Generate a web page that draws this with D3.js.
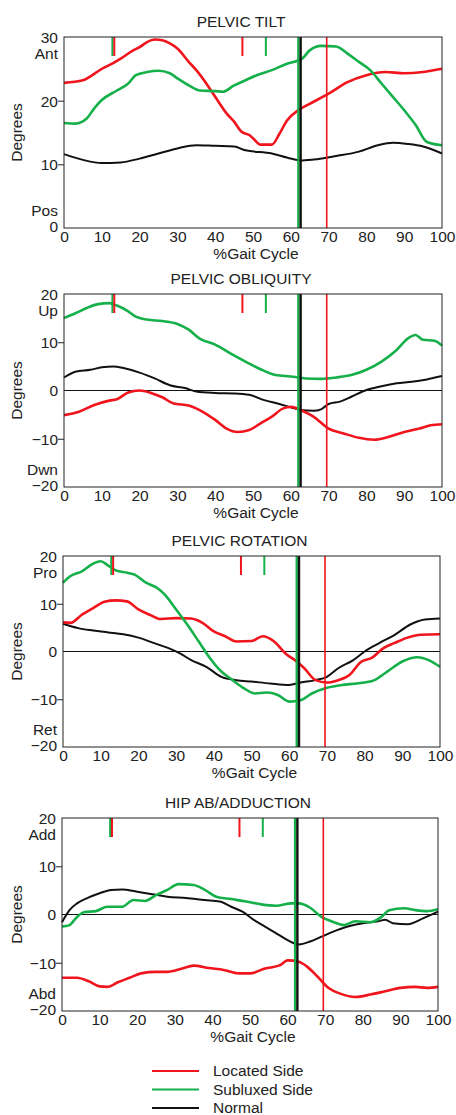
<!DOCTYPE html>
<html>
<head>
<meta charset="utf-8">
<script src="https://cdn.jsdelivr.net/npm/d3@7"></script>
<style>
  body { margin: 0; background: #fff; }
  text { font-family: Arial, "Liberation Sans", sans-serif; fill: #222; }
</style>
</head>
<body>
<script>
// gait data, [% gait cycle, degrees]
var gaitTicks = [0, 10, 20, 30, 40, 50, 60, 70, 80, 90, 100];

var tiltLocated = [[0,22.8],[5,23.2],[10,25.0],[13,25.9],[15,26.6],[18,27.8],[20,28.4],[22,29.2],[24,29.6],[26,29.5],[28,29.0],[30,28.2],[33,26.1],[35,24.8],[38,22.4],[40,20.6],[43,18.0],[45,16.7],[47,15.1],[49,14.6],[50,14.1],[52,13.1],[55,13.1],[57,14.8],[59,16.9],[62,18.5],[65,19.5],[70,21.1],[75,22.9],[80,24.0],[85,24.5],[90,24.3],[95,24.5],[100,25.0]];
var tiltSubluxed = [[0,16.5],[3,16.4],[6,17.2],[8,18.8],[10,20.1],[14,21.6],[17,22.7],[19,24.0],[22,24.5],[25,24.7],[28,24.3],[30,23.5],[33,22.4],[36,21.6],[40,21.5],[42,21.4],[45,22.4],[48,23.2],[51,24.0],[55,24.8],[59,25.8],[63,26.6],[65,27.9],[68,28.6],[72,28.5],[75,27.4],[78,26.1],[81,24.8],[84,22.7],[87,20.6],[90,18.5],[93,16.2],[96,13.5],[100,13.0]];
var tiltNormal = [[0,11.6],[5,10.7],[10,10.2],[15,10.3],[20,10.9],[25,11.7],[30,12.5],[35,13.0],[40,12.9],[45,12.8],[48,12.2],[55,11.7],[60,10.9],[63,10.6],[67,10.8],[72,11.3],[78,12.0],[83,13.0],[87,13.4],[91,13.2],[95,12.8],[100,11.7]];

var obliqLocated = [[0,-5.1],[4,-4.4],[8,-3.0],[12,-2.1],[14,-1.8],[17,-0.4],[20,0],[23,-0.5],[26,-1.4],[29,-2.7],[33,-3.1],[36,-4.1],[40,-6.1],[43,-7.9],[46,-8.6],[49,-8.2],[52,-6.8],[55,-5.4],[58,-3.7],[60,-3.4],[63,-4.2],[66,-5.4],[70,-7.9],[74,-8.9],[78,-9.8],[82,-10.2],[86,-9.6],[90,-8.6],[94,-7.9],[97,-7.2],[100,-7.0]];
var obliqSubluxed = [[0,15.0],[3,16.0],[6,17.1],[9,17.9],[12,18.1],[14,17.6],[17,16.4],[19,15.3],[22,14.7],[26,14.4],[30,13.8],[33,12.6],[36,10.7],[40,9.5],[44,7.7],[48,6.0],[52,4.4],[56,3.2],[60,2.9],[64,2.5],[68,2.4],[72,2.7],[76,3.2],[80,4.3],[84,6.0],[88,8.4],[91,10.8],[93,11.5],[95,10.5],[98,10.3],[100,9.3]];
var obliqNormal = [[0,2.7],[3,3.9],[7,4.3],[10,4.8],[13,5.0],[16,4.6],[20,3.7],[24,2.5],[28,1.1],[32,0.5],[35,-0.2],[40,-0.5],[45,-0.6],[49,-0.9],[53,-2.0],[57,-2.8],[60,-3.5],[63,-4.1],[66,-4.2],[68,-3.9],[70,-2.8],[73,-2.3],[76,-1.3],[80,0.1],[84,0.9],[88,1.5],[92,1.8],[96,2.3],[100,3.0]];

var rotLocated = [[0,6.1],[2,6.0],[5,7.7],[8,9.1],[11,10.4],[14,10.7],[17,10.5],[20,8.8],[23,7.7],[26,6.8],[30,7.0],[34,6.9],[37,6.0],[40,4.2],[43,3.2],[46,2.1],[50,2.2],[53,3.2],[56,2.1],[59,-0.4],[62,-2.1],[64,-3.5],[67,-6.0],[70,-6.5],[73,-6.0],[76,-4.9],[79,-2.2],[82,-1.3],[85,0.7],[88,1.8],[91,2.8],[95,3.5],[100,3.6]];
var rotSubluxed = [[0,14.4],[2,15.8],[5,16.8],[8,18.4],[10,18.9],[12,18.0],[14,17.0],[17,16.5],[19,16.1],[22,14.4],[25,13.3],[27,11.9],[30,8.8],[33,5.6],[36,2.1],[39,-1.4],[42,-4.2],[45,-6.0],[48,-7.7],[51,-8.8],[54,-8.6],[57,-9.1],[60,-10.5],[63,-10.2],[66,-8.8],[70,-7.6],[74,-7.0],[78,-6.7],[82,-6.2],[86,-4.2],[90,-2.1],[94,-1.2],[97,-1.8],[100,-3.2]];
var rotNormal = [[0,5.8],[4,4.9],[8,4.4],[12,4.0],[16,3.6],[20,2.9],[24,1.8],[28,0.7],[31,-0.4],[34,-1.8],[38,-3.2],[42,-5.3],[46,-6.0],[50,-6.3],[55,-6.7],[60,-7.0],[63,-6.5],[67,-6.0],[70,-5.3],[73,-3.5],[77,-1.8],[80,0],[84,1.8],[88,3.5],[92,5.6],[96,6.7],[100,6.9]];

var hipLocated = [[0,-13.1],[4,-13.1],[7,-13.8],[10,-14.9],[12,-15.0],[15,-14.0],[18,-13.1],[21,-12.2],[25,-11.9],[28,-11.9],[32,-11.2],[35,-10.6],[39,-11.1],[43,-11.5],[47,-12.2],[50,-12.2],[54,-11.2],[58,-10.5],[60,-9.5],[63,-9.8],[65,-10.7],[68,-12.9],[71,-15.3],[74,-16.4],[78,-17.1],[82,-16.6],[86,-15.9],[90,-15.2],[94,-15.0],[97,-15.2],[100,-15.0]];
var hipSubluxed = [[0,-2.5],[2,-2.2],[4,-0.5],[6,0.5],[9,0.7],[12,1.6],[16,1.6],[19,3.0],[22,2.8],[25,4.0],[28,5.1],[31,6.3],[35,6.1],[38,5.1],[41,3.7],[45,3.2],[49,2.7],[53,2.1],[57,1.8],[61,2.3],[63,2.3],[66,1.4],[69,-0.5],[72,-1.5],[75,-2.2],[78,-1.4],[82,-1.6],[85,-0.5],[87,0.9],[91,1.3],[94,0.9],[97,0.7],[100,1.1]];
var hipNormal = [[0,-1.6],[2,0.9],[4,2.3],[7,3.5],[10,4.4],[13,5.1],[16,5.2],[20,4.7],[24,4.2],[28,3.7],[33,3.4],[38,3.0],[42,2.7],[45,1.6],[48,0.6],[51,-1.1],[54,-2.5],[57,-3.9],[60,-5.3],[63,-6.2],[66,-5.6],[69,-4.6],[72,-3.6],[76,-2.5],[80,-1.8],[84,-1.4],[86,-1.1],[88,-1.8],[92,-2.0],[96,-0.8],[100,0.6]];

// gait events (% cycle): opposite foot off / contact, and own foot off
var shortEvents = [["subluxed",12.8],["located",13.3],["located",47.2],["subluxed",53.4]];
var footOff = [["subluxed",62.0],["normal",62.6],["located",69.5]];

var seriesNames = ["Located Side", "Subluxed Side", "Normal"];

var colors = { located: "#f0141c", subluxed: "#15b04a", normal: "#111" };

var fontSize = "15.5px";

var panels = [
  { title: "PELVIC  TILT", domain: [0, 30], ticks: [0, 10, 20, 30], up: "Ant", down: "Pos",
    top: 37, bottom: 228, left: 64, right: 442, zero: false,
    located: tiltLocated, subluxed: tiltSubluxed, normal: tiltNormal },
  { title: "PELVIC  OBLIQUITY", domain: [-20, 20], ticks: [-20, -10, 0, 10, 20], up: "Up", down: "Dwn",
    top: 294, bottom: 487, left: 64, right: 442, zero: true,
    located: obliqLocated, subluxed: obliqSubluxed, normal: obliqNormal },
  { title: "PELVIC  ROTATION", domain: [-20, 20], ticks: [-20, -10, 0, 10, 20], up: "Pro", down: "Ret",
    top: 556, bottom: 747, left: 63, right: 440, zero: true,
    located: rotLocated, subluxed: rotSubluxed, normal: rotNormal },
  { title: "HIP  AB/ADDUCTION", domain: [-20, 20], ticks: [-20, -10, 0, 10, 20], up: "Add", down: "Abd",
    top: 818, bottom: 1011, left: 62, right: 438, zero: true,
    located: hipLocated, subluxed: hipSubluxed, normal: hipNormal }
];

var width = 456, height = 1115;

var svg = d3.select("body").append("svg")
    .attr("width", width)
    .attr("height", height);

panels.forEach(function(p) {
  var x = d3.scaleLinear().domain([0, 100]).range([p.left, p.right]);
  var y = d3.scaleLinear().domain(p.domain).range([p.bottom, p.top]);
  var g = svg.append("g");

  // title
  g.append("text")
      .attr("x", (p.left + p.right) / 2 - 12)
      .attr("y", p.top - 15)
      .attr("dy", "0.35em")
      .attr("text-anchor", "middle")
      .style("font-size", fontSize)
      .text(p.title);

  // zero line
  if (p.zero) {
    g.append("line")
        .attr("x1", p.left).attr("x2", p.right)
        .attr("y1", y(0)).attr("y2", y(0))
        .attr("stroke", "#111").attr("stroke-width", 1);
  }

  // curves
  var line = d3.line()
      .x(function(d) { return x(d[0]); })
      .y(function(d) { return y(d[1]); })
      .curve(d3.curveMonotoneX);

  ["normal", "located", "subluxed"].forEach(function(k) {
    g.append("path")
        .datum(p[k])
        .attr("d", line)
        .attr("fill", "none")
        .attr("stroke", colors[k])
        .attr("stroke-width", k == "normal" ? 2 : 2.6)
        .attr("stroke-linejoin", "round");
  });

  // short event ticks at the top
  shortEvents.forEach(function(e) {
    g.append("line")
        .attr("x1", x(e[1])).attr("x2", x(e[1]))
        .attr("y1", p.top).attr("y2", p.top + 19)
        .attr("stroke", colors[e[0]]).attr("stroke-width", 2);
  });

  // foot off lines
  footOff.forEach(function(e) {
    g.append("line")
        .attr("x1", x(e[1])).attr("x2", x(e[1]))
        .attr("y1", p.top).attr("y2", p.bottom)
        .attr("stroke", colors[e[0]])
        .attr("stroke-width", e[0] == "located" ? 1.6 : 2.4);
  });

  // frame
  g.append("rect")
      .attr("x", p.left).attr("y", p.top)
      .attr("width", p.right - p.left).attr("height", p.bottom - p.top)
      .attr("fill", "none").attr("stroke", "#222").attr("stroke-width", 1);

  // axes
  var ya = g.append("g")
      .attr("transform", "translate(" + p.left + ",0)")
      .call(d3.axisLeft(y).tickValues(p.ticks).tickSize(6).tickSizeOuter(0).tickPadding(0).tickFormat(d3.format("d")));
  ya.select(".domain").remove();
  ya.selectAll("text").style("font-size", fontSize).attr("fill", "#222")
      .attr("dy", function(d) { return d == p.domain[0] ? "0.2em" : "0.35em"; });
  ya.selectAll("line").attr("stroke", "#222")
      .filter(function(d) { return d == p.domain[0] || d == p.domain[1] || (p.zero && d == 0); })
      .remove();

  var xa = g.append("g")
      .attr("transform", "translate(0," + p.bottom + ")")
      .call(d3.axisBottom(x).tickValues(gaitTicks).tickSize(0).tickPadding(3));
  xa.select(".domain").remove();
  xa.selectAll("text").style("font-size", fontSize).attr("fill", "#222");

  // direction labels
  g.append("text")
      .attr("x", p.left - 6).attr("y", p.top + 17)
      .attr("dy", "0.35em").attr("text-anchor", "end")
      .style("font-size", fontSize).text(p.up);
  g.append("text")
      .attr("x", p.left - 6).attr("y", p.bottom - 17)
      .attr("dy", "0.35em").attr("text-anchor", "end")
      .style("font-size", fontSize).text(p.down);

  // axis titles
  g.append("text")
      .attr("transform", "translate(17," + (p.top + p.bottom) / 2 + ") rotate(-90)")
      .attr("dy", "0.35em").attr("text-anchor", "middle")
      .style("font-size", fontSize).text("Degrees");
  g.append("text")
      .attr("x", (p.left + p.right) / 2 + 3).attr("y", p.bottom + 26)
      .attr("dy", "0.35em").attr("text-anchor", "middle")
      .style("font-size", fontSize).text("%Gait Cycle");
});

// legend
var legend = svg.append("g");
var legendKeys = ["located", "subluxed", "normal"];
var legendY = d3.scalePoint().domain(seriesNames).range([1071, 1108]);

seriesNames.forEach(function(name, i) {
  legend.append("line")
      .attr("x1", 152).attr("x2", 199)
      .attr("y1", legendY(name)).attr("y2", legendY(name))
      .attr("stroke", colors[legendKeys[i]]).attr("stroke-width", 2);
  legend.append("text")
      .attr("x", 213).attr("y", legendY(name))
      .attr("dy", "0.35em")
      .style("font-size", fontSize)
      .text(name);
});
</script>
</body>
</html>
